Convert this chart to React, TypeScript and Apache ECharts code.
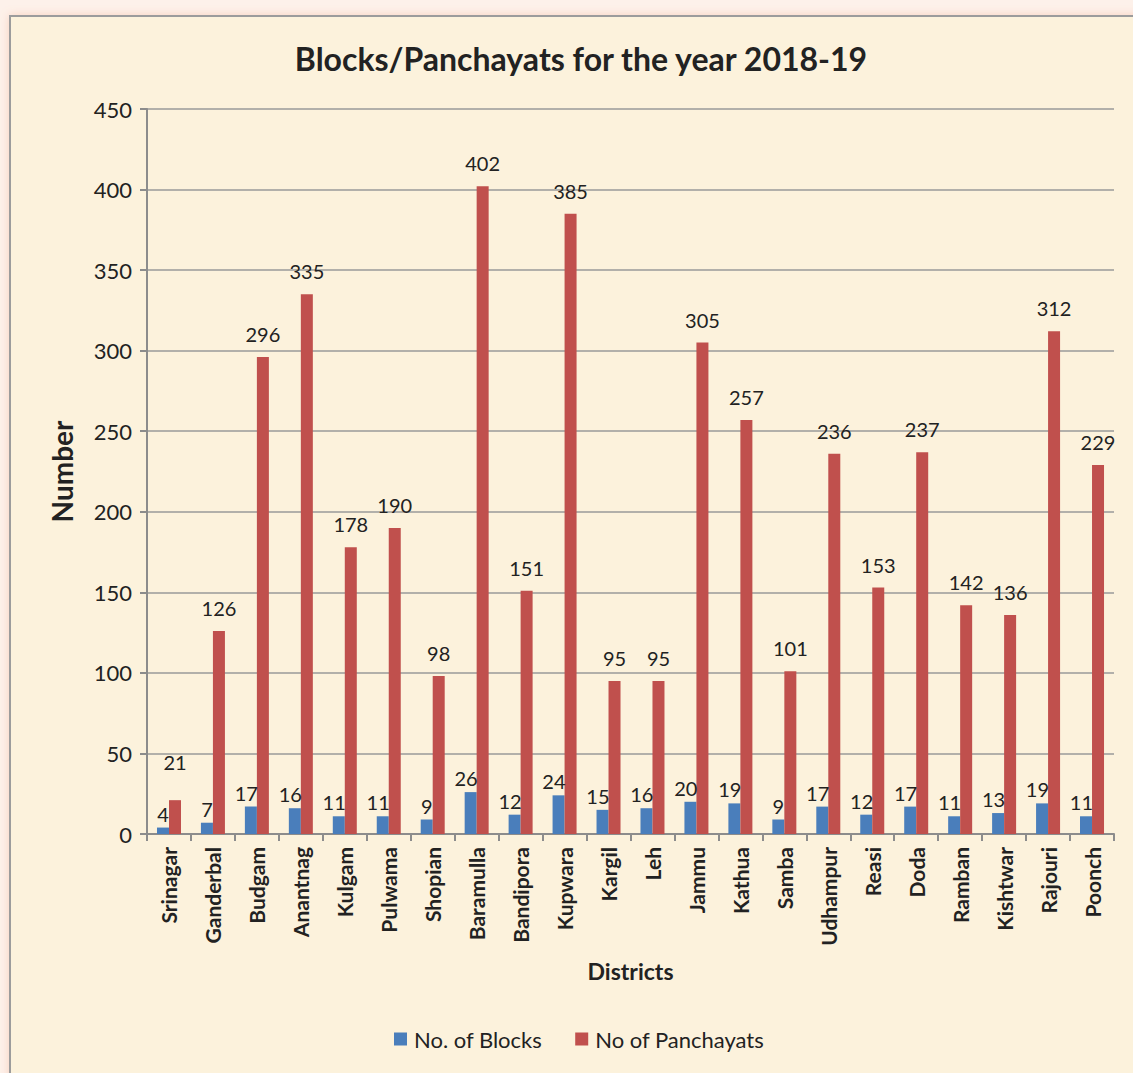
import React, { useEffect, useRef } from "react";
import * as echarts from "echarts";

const districts = ["Srinagar", "Ganderbal", "Budgam", "Anantnag", "Kulgam", "Pulwama", "Shopian", "Baramulla", "Bandipora", "Kupwara", "Kargil", "Leh", "Jammu", "Kathua", "Samba", "Udhampur", "Reasi", "Doda", "Ramban", "Kishtwar", "Rajouri", "Poonch"];
const blocks = [4, 7, 17, 16, 11, 11, 9, 26, 12, 24, 15, 16, 20, 19, 9, 17, 12, 17, 11, 13, 19, 11];
const panchayats = [21, 126, 296, 335, 178, 190, 98, 402, 151, 385, 95, 95, 305, 257, 101, 236, 153, 237, 142, 136, 312, 229];

const FONT = "Lato, 'Open Sans', sans-serif";

export default function App() {
  const ref = useRef<HTMLDivElement>(null);
  useEffect(() => {
    if (!ref.current) return;
    const chart = echarts.init(ref.current, null, { renderer: "svg" });
    chart.setOption({
      animation: false,
      backgroundColor: "#fdf1ea",
      textStyle: { fontFamily: FONT },
      graphic: [
        {
          type: "rect",
          z: -10,
          silent: true,
          shape: { x: 10, y: 16, width: 1140, height: 1080 },
          style: {
            fill: "#fcf2dc",
            stroke: "#9c9c9c",
            lineWidth: 2,
            shadowBlur: 10,
            shadowColor: "rgba(240,150,110,0.35)",
          },
        },
      ],
      title: {
        text: "Blocks/Panchayats for the year 2018-19",
        left: 576,
        textAlign: "center",
        top: 37,
        textStyle: { fontFamily: FONT, fontSize: 32, fontWeight: "bold", color: "#222" },
      },
      legend: {
        left: 389,
        top: 1023,
        itemWidth: 13,
        itemHeight: 13,
        itemGap: 33,
        icon: "rect",
        textStyle: { fontFamily: FONT, fontSize: 22, color: "#222", padding: [0, 0, 0, 2] },
        data: ["No. of Blocks", "No of Panchayats"],
      },
      grid: { left: 147, top: 109, right: 19, bottom: 239, containLabel: false },
      xAxis: {
        type: "category",
        data: districts,
        name: "Districts",
        nameLocation: "middle",
        nameGap: 125,
        nameTextStyle: { fontFamily: FONT, fontSize: 23, fontWeight: "bold", color: "#222" },
        axisLine: { lineStyle: { color: "#8c8c8c", width: 2 } },
        axisTick: { show: true, length: 7, lineStyle: { color: "#8c8c8c", width: 2 } },
        axisLabel: {
          rotate: 90,
          interval: 0,
          margin: 13,
          fontFamily: FONT,
          fontSize: 21,
          fontWeight: "bold",
          color: "#222",
        },
      },
      yAxis: {
        type: "value",
        min: 0,
        max: 450,
        interval: 50,
        name: "Number",
        nameLocation: "middle",
        nameGap: 71,
        nameTextStyle: { fontFamily: FONT, fontSize: 28, fontWeight: "bold", color: "#222" },
        axisLine: { show: true, lineStyle: { color: "#8c8c8c", width: 2 } },
        axisTick: { show: true, length: 7, lineStyle: { color: "#8c8c8c", width: 2 } },
        axisLabel: { fontFamily: FONT, fontSize: 22, color: "#222", margin: 15 },
        splitLine: { lineStyle: { color: "#9a9a9a", width: 1.5 } },
      },
      series: [
        {
          name: "No. of Blocks",
          type: "bar",
          barWidth: 12,
          barGap: "0%",
          itemStyle: { color: "#4a7ebb" },
          data: blocks.map((v) => ({
            value: v,
            label: v >= 10 ? { align: "right", offset: [7, 0] } : {},
          })),
          label: {
            show: true,
            position: "top",
            distance: 4,
            fontFamily: FONT,
            fontSize: 20,
            color: "#222",
          },
        },
        {
          name: "No of Panchayats",
          type: "bar",
          barWidth: 12,
          barGap: "0%",
          itemStyle: { color: "#c0504d" },
          data: panchayats.map((v, i) => ({
            value: v,
            label: i === 0 ? { distance: 28 } : {},
          })),
          label: {
            show: true,
            position: "top",
            distance: 13,
            fontFamily: FONT,
            fontSize: 20,
            color: "#222",
          },
        },
      ],
    });
    return () => chart.dispose();
  }, []);
  return (
    <div
      ref={ref}
      style={{ position: "absolute", left: 0, top: 0, width: 1133, height: 1073 }}
    />
  );
}
